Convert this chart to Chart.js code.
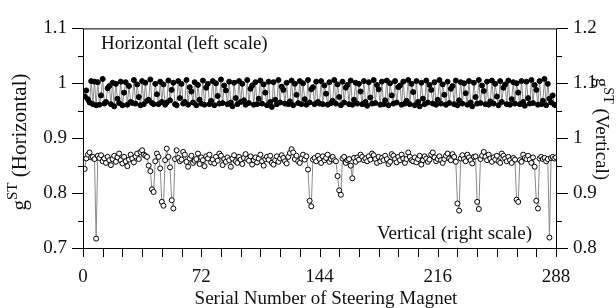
<!DOCTYPE html>
<html>
<head>
<meta charset="utf-8">
<script src="https://cdn.jsdelivr.net/npm/chart.js@4"></script>
<style>
  html, body { margin: 0; padding: 0; background: #fff; }
</style>
</head>
<body>
<canvas id="canvas" width="616" height="308"></canvas>
<script>
// g^ST, horizontal correctors (left scale)
const horizontal = [
  .976, .987, .971, .965, 1.004, .962, 1.003, .960, 1.002, .961, .978, 1.008, .963, .966, .991, .995, .962, 1.001, .958, .999, .972, .964, 1.003, .960,
  .983, 1.002, .961, .995, .966, .964, 1.006, .963, .998, .975, .960, 1.004, .962, 1.001, .968, .970, 1.007, .964, .962, .999, .980, .962, 1.003, .966,
  .998, .961, .965, 1.005, .969, .988, 1.001, .962, .960, 1.004, .973, .999, .963, .966, 1.006, .961, .993, .985, .965, 1.002, .960, .997, .970, .963,
  1.005, .961, .992, .999, .962, .968, 1.004, .960, 1.000, .977, .963, 1.007, .964, .996, .987, .962, 1.003, .965, .958, 1.001, .973, .962, 1.004, .966,
  .999, .969, .961, 1.006, .964, .990, .996, .961, 1.002, .962, .972, 1.005, .963, .998, .983, .960, 1.003, .966, .957, 1.002, .970, .962, 1.006, .965,
  .994, .988, .963, 1.001, .962, .967, 1.005, .960, .999, .979, .964, 1.004, .962, 1.000, .971, .961, 1.006, .965, .989, .993, .962, 1.003, .966, .963,
  1.004, .962, .996, .981, .961, 1.002, .964, .968, 1.006, .963, .998, .975, .960, 1.003, .965, .992, .997, .962, 1.005, .961, .970, 1.001, .963, .999,
  .985, .962, 1.004, .966, .959, 1.002, .974, .963, 1.006, .964, .997, .989, .961, 1.003, .962, .969, 1.005, .960, 1.000, .978, .963, 1.004, .965, .993,
  .996, .961, 1.003, .963, .968, 1.006, .962, .999, .984, .960, 1.004, .966, .958, 1.001, .972, .962, 1.005, .965, .997, .988, .963, 1.002, .961, .970,
  1.006, .963, .998, .979, .961, 1.003, .964, .990, .995, .962, 1.005, .960, .969, 1.002, .963, 1.000, .982, .961, 1.004, .965, .958, 1.001, .975, .963,
  1.006, .964, .996, .986, .962, 1.003, .961, .967, 1.005, .963, .999, .976, .960, 1.004, .966, .992, .998, .962, 1.005, .961, .971, 1.002, .963, 1.000,
  .983, .962, 1.004, .966, .959, 1.003, .973, .963, 1.006, .964, .997, .988, .961, 1.004, .962, .968, 1.008, .960, .999, .972, .965, .978, .961, .960
]

// g^ST, vertical correctors (right scale)
const vertical = [
  .944, .963, .970, .974, .965, .966, .962, .817, .968, .964, .969, .958, .963, .955, .966, .960, .951, .962, .968, .957, .965, .972, .960, .954,
  .966, .958, .949, .961, .970, .963, .956, .967, .972, .962, .975, .978, .970, .968, .966, .950, .940, .907, .902, .958, .972, .966, .945, .884,
  .877, .960, .981, .966, .947, .887, .872, .962, .978, .964, .958, .961, .975, .970, .957, .948, .963, .968, .955, .959, .962, .972, .953, .965,
  .960, .949, .967, .963, .970, .956, .961, .954, .966, .959, .972, .968, .951, .962, .957, .965, .960, .948, .963, .969, .958, .955, .966, .961,
  .953, .964, .971, .962, .959, .967, .952, .960, .965, .956, .963, .970, .958, .950, .962, .966, .961, .968, .955, .952, .960, .967, .957, .963,
  .969, .964, .958, .954, .966, .973, .980, .974, .962, .968, .958, .955, .963, .970, .961, .967, .943, .886, .876, .961, .964, .958, .968, .962,
  .955, .967, .960, .964, .970, .957, .962, .966, .960, .958, .931, .905, .897, .963, .966, .955, .960, .962, .950, .927, .964, .957, .965, .961,
  .970, .966, .960, .963, .958, .967, .961, .972, .969, .962, .955, .966, .958, .964, .960, .968, .962, .953, .957, .971, .968, .962, .956, .966,
  .960, .970, .963, .955, .962, .974, .966, .960, .958, .965, .956, .962, .968, .952, .960, .967, .963, .957, .961, .970, .974, .965, .958, .962,
  .967, .960, .955, .962, .968, .972, .963, .960, .971, .966, .957, .881, .868, .963, .969, .962, .958, .970, .965, .960, .954, .966, .967, .884,
  .871, .962, .968, .975, .966, .960, .970, .963, .957, .965, .961, .968, .958, .955, .972, .968, .963, .958, .966, .960, .955, .964, .961, .888,
  .884, .960, .957, .970, .964, .962, .968, .961, .955, .965, .948, .886, .872, .963, .966, .962, .964, .958, .962, .819, .964, .966, .963, .965
]

// serial number of each steering magnet
const serial = horizontal.map((v, i) => i + 1)

const xTicks = [0, 72, 144, 216, 288]
const leftTicks = [0.7, 0.8, 0.9, 1, 1.1]
const rightTicks = [0.8, 0.9, 1, 1.1, 1.2]

const FONT = 'Liberation Serif'
const INK = '#111'

function fmt(v) {
  return String(Math.round(v * 10) / 10)
}

// draws text with a superscript part, centred on (x, y), rotated by angle
function drawParts(ctx, x, y, angle, parts) {
  ctx.save()
  ctx.translate(x, y)
  ctx.rotate(angle)
  let w = 0
  parts.forEach(p => {
    ctx.font = p.size + 'px "' + FONT + '"'
    p.w = ctx.measureText(p.text).width
    w += p.w
  })
  let cx = -w / 2
  ctx.textAlign = 'left'
  ctx.textBaseline = 'alphabetic'
  parts.forEach(p => {
    ctx.font = p.size + 'px "' + FONT + '"'
    ctx.fillText(p.text, cx, 6 + p.rise)
    cx += p.w
  })
  ctx.restore()
}

const decor = {
  id: 'decor',
  afterDraw(chart) {
    const { ctx, chartArea: a, scales } = chart
    ctx.save()
    ctx.strokeStyle = '#000'
    ctx.lineWidth = 1
    ctx.strokeRect(a.left + 0.5, a.top + 0.5, a.right - a.left, a.bottom - a.top)

    ctx.beginPath()
    // x ticks every 12
    for (let v = 0; v <= 288; v += 12) {
      const px = Math.round(scales.x.getPixelForValue(v)) + 0.5
      ctx.moveTo(px, a.bottom)
      ctx.lineTo(px, a.bottom + 9)
    }
    // left ticks
    for (let k = 14; k <= 22; k++) {
      const py = Math.round(scales.y.getPixelForValue(k / 20)) + 0.5
      const len = k % 2 === 0 ? 11 : 5
      ctx.moveTo(a.left - len, py)
      ctx.lineTo(a.left, py)
    }
    // right ticks
    for (let k = 16; k <= 24; k++) {
      const py = Math.round(scales.y2.getPixelForValue(k / 20)) + 0.5
      const len = k % 2 === 0 ? 11 : 5
      ctx.moveTo(a.right + 1, py)
      ctx.lineTo(a.right + 1 + len, py)
    }
    ctx.stroke()

    ctx.fillStyle = INK
    ctx.font = '19px "' + FONT + '"'
    ctx.textBaseline = 'alphabetic'
    ctx.textAlign = 'left'
    ctx.fillText('Horizontal (left scale)', 101, 49)
    ctx.textAlign = 'right'
    ctx.fillText('Vertical (right scale)', 532, 239)
    ctx.textAlign = 'center'
    ctx.fillText('Serial Number of Steering Magnet', 326, 304)

    drawParts(ctx, 20, 142, -Math.PI / 2, [
      { text: 'g', size: 21, rise: 0 },
      { text: 'ST', size: 15, rise: -9 },
      { text: ' (Horizontal)', size: 21, rise: 0 }
    ])
    drawParts(ctx, 602, 129, Math.PI / 2, [
      { text: 'g', size: 19, rise: 0 },
      { text: 'ST', size: 14, rise: -8 },
      { text: ' (Vertical)', size: 19, rise: 0 }
    ])
    ctx.restore()
  }
}

const tickFont = { family: FONT, size: 19 }

const config = {
  type: 'line',
  data: {
    datasets: [
      {
        label: 'Horizontal',
        data: serial.map((x, i) => ({ x: x, y: horizontal[i] })),
        yAxisID: 'y',
        borderColor: '#8a8a8a',
        borderWidth: 1,
        pointRadius: 2.5,
        pointBorderWidth: 1,
        pointBackgroundColor: '#000',
        pointBorderColor: '#000',
        tension: 0
      },
      {
        label: 'Vertical',
        data: serial.map((x, i) => ({ x: x, y: vertical[i] })),
        yAxisID: 'y2',
        borderColor: '#8a8a8a',
        borderWidth: 1,
        pointRadius: 2.5,
        pointBorderWidth: 1,
        pointBackgroundColor: '#fff',
        pointBorderColor: '#000',
        tension: 0
      }
    ]
  },
  options: {
    responsive: false,
    animation: false,
    layout: { padding: { top: 15, left: 0, right: 0, bottom: 0 } },
    plugins: {
      legend: { display: false },
      tooltip: { enabled: false }
    },
    scales: {
      x: {
        type: 'linear',
        min: 0,
        max: 288,
        grid: { display: false, drawTicks: false },
        border: { display: false },
        afterBuildTicks: s => { s.ticks = xTicks.map(v => ({ value: v })) },
        afterFit: s => { s.height = 60 },
        ticks: { font: tickFont, color: INK, padding: 18, maxRotation: 0, autoSkip: false }
      },
      y: {
        position: 'left',
        min: 0.7,
        max: 1.1,
        grid: { display: false, drawTicks: false },
        border: { display: false },
        afterBuildTicks: s => { s.ticks = leftTicks.map(v => ({ value: v })) },
        afterFit: s => { s.width = 83 },
        ticks: { font: tickFont, color: INK, padding: 16, callback: v => fmt(v) }
      },
      y2: {
        position: 'right',
        min: 0.8,
        max: 1.2,
        grid: { display: false, drawTicks: false },
        border: { display: false },
        afterBuildTicks: s => { s.ticks = rightTicks.map(v => ({ value: v })) },
        afterFit: s => { s.width = 60 },
        ticks: { font: tickFont, color: INK, padding: 17, callback: v => fmt(v) }
      }
    }
  },
  plugins: [decor]
}

const ctx = document.querySelector('#canvas').getContext('2d')
const myChart = new Chart(ctx, config)
</script>
</body>
</html>
